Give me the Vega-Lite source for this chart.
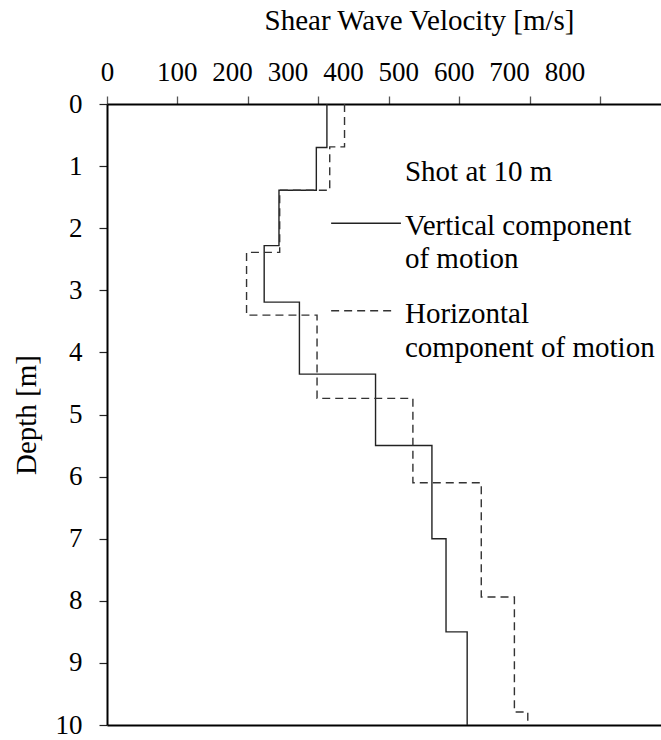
{
  "$schema": "https://vega.github.io/schema/vega-lite/v6.json",
  "width": 554,
  "height": 621,
  "autosize": {"type": "none"},
  "padding": {"left": 107, "top": 104, "right": 0, "bottom": 15},
  "background": "white",
  "config": {
    "view": {"stroke": null},
    "font": "Liberation Serif",
    "axis": {"grid": false, "labelFont": "Liberation Serif", "titleFont": "Liberation Serif", "labelColor": "black", "titleColor": "black", "titleFontWeight": "normal", "domainColor": "black", "domainWidth": 2}
  },
  "datasets": {
    "profile": [
      {"component": "Vertical", "depth": 0, "vs": 312},
      {"component": "Vertical", "depth": 0.70, "vs": 297},
      {"component": "Vertical", "depth": 1.39, "vs": 244},
      {"component": "Vertical", "depth": 2.28, "vs": 223},
      {"component": "Vertical", "depth": 3.19, "vs": 273},
      {"component": "Vertical", "depth": 4.35, "vs": 381},
      {"component": "Vertical", "depth": 5.50, "vs": 461},
      {"component": "Vertical", "depth": 7.00, "vs": 481},
      {"component": "Vertical", "depth": 8.50, "vs": 511},
      {"component": "Vertical", "depth": 10, "vs": 511},
      {"component": "Horizontal", "depth": 0, "vs": 337},
      {"component": "Horizontal", "depth": 0.69, "vs": 316},
      {"component": "Horizontal", "depth": 1.39, "vs": 245},
      {"component": "Horizontal", "depth": 2.39, "vs": 198},
      {"component": "Horizontal", "depth": 3.40, "vs": 298},
      {"component": "Horizontal", "depth": 4.74, "vs": 434},
      {"component": "Horizontal", "depth": 6.10, "vs": 531},
      {"component": "Horizontal", "depth": 7.94, "vs": 578},
      {"component": "Horizontal", "depth": 9.79, "vs": 597},
      {"component": "Horizontal", "depth": 10, "vs": 597}
    ],
    "legendLines": [
      {"component": "Vertical", "x1": 318, "x2": 417, "y": 1.92},
      {"component": "Horizontal", "x1": 318, "x2": 404, "y": 3.33}
    ],
    "legendText": [
      {"text": "Shot at 10 m", "x": 512, "y": 1.243},
      {"text": "Vertical component", "x": 512, "y": 2.109},
      {"text": "of motion", "x": 512, "y": 2.633},
      {"text": "Horizontal", "x": 512, "y": 3.531},
      {"text": "component of motion", "x": 512, "y": 4.069}
    ]
  },
  "encoding": {
    "y": {
      "field": "depth", "type": "quantitative",
      "scale": {"domain": [0, 10], "reverse": true, "nice": false, "zero": false},
      "axis": {
        "values": [0,1,2,3,4,5,6,7,8,9,10],
        "title": "Depth [m]", "titleFontSize": 29, "titleAngle": -90,
        "titleX": -72, "titleY": 310.5, "titleAlign": "center", "titleBaseline": "alphabetic",
        "labelFontSize": 27, "labelPadding": 17, "labelBaseline": "middle", "labelAlign": "right",
        "tickSize": 8, "tickColor": "#222", "tickWidth": 1.2, "labelOverlap": false, "labelFlush": false
      }
    }
  },
  "layer": [
    {
      "data": {"name": "profile"},
      "mark": {"type": "line", "interpolate": "step-before", "strokeWidth": 1.4, "clip": true},
      "encoding": {
        "x": {
          "field": "vs", "type": "quantitative",
          "scale": {"domain": [0, 786], "nice": false, "zero": false},
          "axis": {
            "orient": "top",
            "values": [0,100,200,300,400,500,600,700],
            "labels": false,
            "title": "Shear Wave Velocity [m/s]", "titleFontSize": 29,
            "titleX": 312, "titleY": -74.5, "titleAlign": "center", "titleBaseline": "alphabetic",
            "tickSize": 8, "tickColor": "#555", "tickWidth": 1.3
          }
        },
        "order": {"field": "depth", "type": "quantitative"},
        "detail": {"field": "component"},
        "strokeDash": {"field": "component", "type": "nominal", "scale": {"domain": ["Vertical", "Horizontal"], "range": [[1, 0], [8, 5]]}, "legend": null},
        "color": {"field": "component", "type": "nominal", "scale": {"domain": ["Vertical", "Horizontal"], "range": ["#222222", "#333333"]}, "legend": null}
      }
    },
    {
      "data": {"name": "legendLines"},
      "mark": {"type": "rule", "strokeWidth": 1.4},
      "encoding": {
        "x": {
          "field": "x1", "type": "quantitative",
          "scale": {"domain": [0, 786], "nice": false, "zero": false},
          "axis": {"orient": "bottom", "labels": false, "ticks": false, "title": null, "domainWidth": 2}
        },
        "x2": {"field": "x2"},
        "y": {"field": "y", "type": "quantitative"},
        "strokeDash": {"field": "component", "type": "nominal", "scale": {"domain": ["Vertical", "Horizontal"], "range": [[1, 0], [8, 5]]}, "legend": null},
        "color": {"field": "component", "type": "nominal", "scale": {"domain": ["Vertical", "Horizontal"], "range": ["#222222", "#333333"]}, "legend": null}
      }
    },
    {
      "data": {"name": "legendText"},
      "mark": {"type": "text", "align": "left", "baseline": "alphabetic", "font": "Liberation Serif", "fontSize": 29, "color": "black"},
      "encoding": {
        "x": {
          "field": "x", "type": "quantitative",
          "scale": {"domain": [-25.8, 974.2], "nice": false, "zero": false},
          "axis": {
            "orient": "top",
            "values": [-25.8, 100, 200, 300, 400, 500, 600, 700, 800],
            "labelExpr": "datum.value < 0 ? '0' : datum.label",
            "ticks": false, "tickSize": 0, "domain": false, "title": null,
            "labelFontSize": 27, "labelPadding": 24, "labelBaseline": "alphabetic", "labelAlign": "center",
            "labelOverlap": false, "labelFlush": false
          }
        },
        "y": {"field": "y", "type": "quantitative"},
        "text": {"field": "text"}
      }
    }
  ],
  "resolve": {"scale": {"x": "independent"}, "axis": {"x": "independent"}}
}
